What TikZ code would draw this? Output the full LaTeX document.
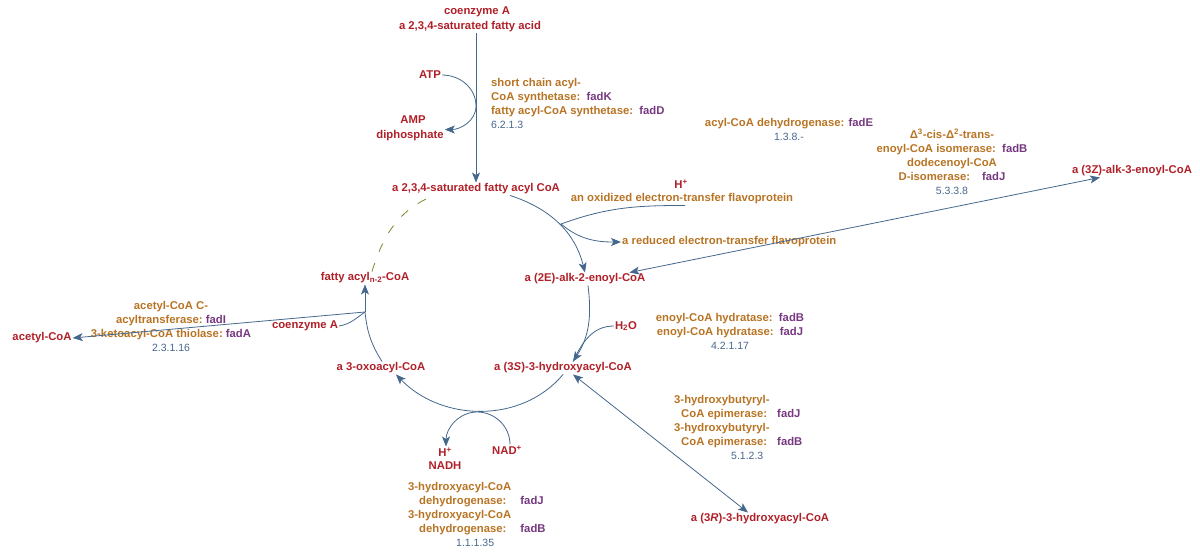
\documentclass[tikz,border=0pt]{standalone}
\usepackage{fontspec}
\setmainfont{Liberation Sans}
\usetikzlibrary{arrows.meta}
\definecolor{metab}{RGB}{176,32,40}
\definecolor{enzc}{RGB}{184,116,36}
\definecolor{genec}{RGB}{118,56,128}
\definecolor{ecc}{RGB}{72,102,140}
\definecolor{arrc}{RGB}{68,104,140}
\definecolor{sidec}{RGB}{110,140,40}
\newcommand\pwfont{\fontsize{11.3}{14}\selectfont\bfseries}
\newcommand\gene[1]{\textcolor{genec}{#1}}
\newcommand\ecnum[1]{{\fontsize{10.5}{14}\selectfont\mdseries\color{ecc}#1}}

\begin{document}
\begin{tikzpicture}[x=1pt, y=-1pt,
    met/.style={text=metab, font=\pwfont, inner sep=1pt},
    enz/.style={text=enzc, font=\pwfont, inner sep=1pt, align=center},
    rxn/.style={draw=arrc, line width=0.8pt},
    tip/.style={-{Stealth[length=10pt,width=8pt,inset=2.5pt]}},
    both/.style={{Stealth[length=10pt,width=8pt,inset=2.5pt]}-{Stealth[length=10pt,width=8pt,inset=2.5pt]}},
    side/.style={draw=sidec, line width=0.8pt, dash pattern=on 9pt off 12pt}
]
\useasboundingbox (0,0) rectangle (1200,552);

% metabolites
\node[met] (coa1) at (477,12) {coenzyme A};
\node[met] (fa) at (470,27) {a 2,3,4-saturated fatty acid};
\node[met] (atp) at (430,75) {ATP};
\node[met] (amp) at (413,120) {AMP};
\node[met] (ppi) at (410,136) {diphosphate};
\node[met] (acyl) at (476,189) {a 2,3,4-saturated fatty acyl CoA};
\node[met] (hp1) at (681,184) {H\textsuperscript{+}};
\node[enz] (etfox) at (682,199) {an oxidized electron-transfer flavoprotein};
\node[enz, anchor=west] (etfred) at (621,242) {a reduced electron-transfer flavoprotein};
\node[met] (enoyl) at (585,279) {a (2E)-alk-2-enoyl-CoA};
\node[met] (zenoyl) at (1132,171) {a (3Z)-alk-3-enoyl-CoA};
\node[met] (h2o) at (626,326) {H\textsubscript{2}O};
\node[met] (shyd) at (563,368) {a (3\textit{S})-3-hydroxyacyl-CoA};
\node[met] (rhyd) at (760,519) {a (3\textit{R})-3-hydroxyacyl-CoA};
\node[met] (oxo) at (381,368) {a 3-oxoacyl-CoA};
\node[met] (nad) at (507,450) {NAD\textsuperscript{+}};
\node[met] (hp2) at (445,452) {H\textsuperscript{+}};
\node[met] (nadh) at (445,466) {NADH};
\node[met] (fan) at (365,278) {fatty acyl\textsubscript{n-2}-CoA};
\node[met] (coa2) at (305,326) {coenzyme A};
\node[met] (acet) at (42,338) {acetyl-CoA};

% enzymes
\node[enz, align=left, anchor=north west] (synth) at (490,77)
  {short chain acyl-\\CoA synthetase:\ \ \gene{fadK}\\fatty acyl-CoA synthetase:\ \ \gene{fadD}\\\ecnum{6.2.1.3}};
\node[enz] (dehyd) at (789,129) {acyl-CoA dehydrogenase: \gene{fadE}\\\ecnum{1.3.8.-}};
\node[enz] (isom) at (952,162)
  {Δ\textsuperscript{3}-cis-Δ\textsuperscript{2}-trans-\\enoyl-CoA isomerase:\ \ \gene{fadB}\\dodecenoyl-CoA\\D-isomerase:\hspace{12pt}\gene{fadJ}\\\ecnum{5.3.3.8}};
\node[enz] (hydr) at (730,331)
  {enoyl-CoA hydratase:\ \ \gene{fadB}\\enoyl-CoA hydratase:\ \ \gene{fadJ}\\\ecnum{4.2.1.17}};
\node[enz, align=left, anchor=north west] (epim) at (673,394)
  {3-hydroxybutyryl-\\\hspace*{7pt}CoA epimerase:\hspace{10pt}\gene{fadJ}\\3-hydroxybutyryl-\\\hspace*{7pt}CoA epimerase:\hspace{10pt}\gene{fadB}\\\hspace*{57pt}\ecnum{5.1.2.3}};
\node[enz, align=left, anchor=north west] (hadh) at (407,481)
  {3-hydroxyacyl-CoA\\\hspace*{11pt}dehydrogenase:\hspace{14pt}\gene{fadJ}\\3-hydroxyacyl-CoA\\\hspace*{11pt}dehydrogenase:\hspace{14pt}\gene{fadB}\\\hspace*{48pt}\ecnum{1.1.1.35}};
\node[enz] (thio) at (171,326)
  {acetyl-CoA C-\\acyltransferase:\ \gene{fadI}\\3-ketoacyl-CoA thiolase:\ \gene{fadA}\\\ecnum{2.3.1.16}};

% junctions
\coordinate (atpj) at (476,106);
\coordinate (etfj) at (561,224);
\coordinate (nadj) at (477,412);
\coordinate (br) at (365,312);

% entry
\draw[rxn, tip] (fa.south -| acyl.north) -- (acyl.north);
\draw[rxn, tip] (atp.east) to[out=0, in=90] (atpj) to[out=-90, in=0] (ppi.north east);

% cycle
\draw[side] ([xshift=7pt]fan.north) to[out=73, in=-158] ([xshift=-42pt]acyl.south);
\draw[rxn, tip] ([xshift=34pt]acyl.south) to[out=-18, in=104] (enoyl.north);
\draw[rxn, tip] ([xshift=3pt]etfox.south) to[out=180, in=20] (etfj) to[out=-40, in=180] (etfred.west);
\draw[rxn] (h2o.west) to[out=180, in=65] ([xshift=10pt]shyd.north);
\draw[rxn, tip] ([xshift=3pt]enoyl.south) to[out=-83, in=57] ([xshift=10pt]shyd.north);
\draw[rxn, tip] (shyd.south) to[out=-130, in=-46] ([xshift=15pt]oxo.south);
\draw[rxn, tip] ([xshift=3pt]nad.north) to[out=90, in=0] (nadj) to[out=180, in=90] ([xshift=1pt]hp2.north);
\draw[rxn] ([xshift=1pt]oxo.north) to[out=122, in=-84] (br);
\draw[rxn, tip] (br) -- (fan.south);
\draw[rxn, tip] (br) -- (acet.east);
\draw[rxn] (coa2.east) to[out=10, in=-145] (br);

% side reactions
\draw[rxn, both] ([xshift=-17pt]enoyl.north east) -- ([xshift=-32pt]zenoyl.south);
\draw[rxn, both] ([xshift=10pt]shyd.south) -- ([xshift=-12pt]rhyd.north);
\end{tikzpicture}
\end{document}
